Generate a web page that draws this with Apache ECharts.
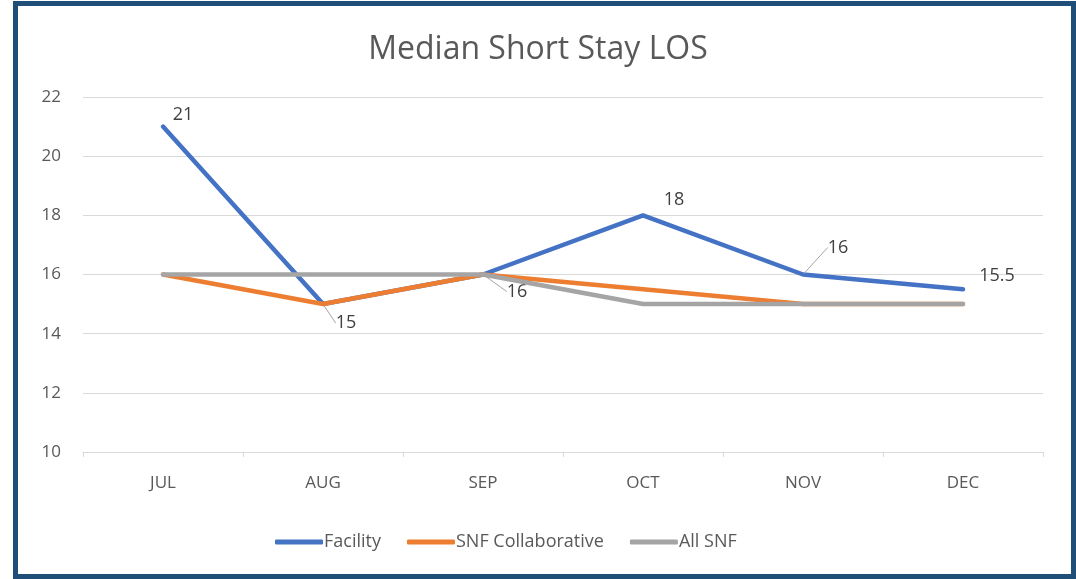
<!DOCTYPE html>
<html>
<head>
<meta charset="utf-8">
<title>Median Short Stay LOS</title>
<script src="https://cdn.jsdelivr.net/npm/echarts@6/dist/echarts.min.js"></script>
<style>
  html, body { margin: 0; padding: 0; background: #fff; }
  #main { width: 1076px; height: 579px; }
  #frame {
    position: absolute; left: 13px; top: 1px; width: 1053px; height: 568px;
    border: 5px solid #1F4E79; pointer-events: none;
  }
</style>
</head>
<body>
<div id="main"></div>
<div id="frame"></div>
<script>
const months = ["JUL", "AUG", "SEP", "OCT", "NOV", "DEC"];
const facility = [21, 15, 16, 18, 16, 15.5];
const snfCollaborative = [16, 15, 16, 15.5, 15, 15];
const allSnf = [16, 16, 16, 15, 15, 15];

// label offsets for the Facility callouts (relative to the point), and whether a leader line is drawn
const labelShift = [
  [20, -12, false],
  [23, 19, true],
  [34, 17, true],
  [31, -15, false],
  [35, -27, true],
  [34, -13, false]
];

const font = "'Open Sans', 'Noto Sans', sans-serif";
const chart = echarts.init(document.getElementById("main"));

const option = {
  backgroundColor: "#FFFFFF",
  animation: false,
  title: {
    text: "Median Short Stay LOS",
    left: "center",
    top: 29,
    textStyle: { fontFamily: font, fontSize: 32, fontWeight: "normal", color: "#595959" }
  },
  legend: {
    bottom: 23,
    left: 270,
    itemWidth: 48,
    itemHeight: 5,
    itemGap: 26,
    icon: "roundRect",
    textStyle: { fontFamily: font, fontSize: 18, color: "#595959", padding: [0, 0, 0, -4] },
    data: ["Facility", "SNF Collaborative", "All SNF"]
  },
  grid: { left: 83, right: 33, top: 97, bottom: 127 },
  xAxis: {
    type: "category",
    data: months,
    boundaryGap: true,
    axisLine: { lineStyle: { color: "#D9D9D9", width: 1 } },
    axisTick: { show: true, length: 5, lineStyle: { color: "#D9D9D9" } },
    axisLabel: { fontFamily: font, fontSize: 17, color: "#595959", margin: 23 }
  },
  yAxis: {
    type: "value",
    min: 10,
    max: 22,
    interval: 2,
    axisLine: { show: false },
    axisTick: { show: false },
    axisLabel: { fontFamily: font, fontSize: 17, color: "#595959", margin: 22 },
    splitLine: { lineStyle: { color: "#D9D9D9", width: 1 } }
  },
  series: [
    {
      name: "Facility",
      type: "line",
      data: facility.map(function (v, i) {
        return { value: v, labelLine: { show: labelShift[i][2] } };
      }),
      color: "#4472C4",
      lineStyle: { width: 4.5, cap: "round" },
      symbol: "circle",
      symbolSize: 2,
      label: {
        show: true,
        position: "inside",
        fontFamily: font,
        fontSize: 18,
        color: "#404040"
      },
      labelLine: { show: true, lineStyle: { color: "#A6A6A6", width: 1 } },
      labelLayout: function (p) {
        const s = labelShift[p.dataIndex];
        return { dx: s[0], dy: s[1] };
      },
      z: 2
    },
    {
      name: "SNF Collaborative",
      type: "line",
      data: snfCollaborative,
      color: "#ED7D31",
      lineStyle: { width: 4.5, cap: "round" },
      showSymbol: false,
      z: 3
    },
    {
      name: "All SNF",
      type: "line",
      data: allSnf,
      color: "#A5A5A5",
      lineStyle: { width: 4.5, cap: "round" },
      showSymbol: false,
      z: 4
    }
  ]
};

chart.setOption(option);
</script>
</body>
</html>
